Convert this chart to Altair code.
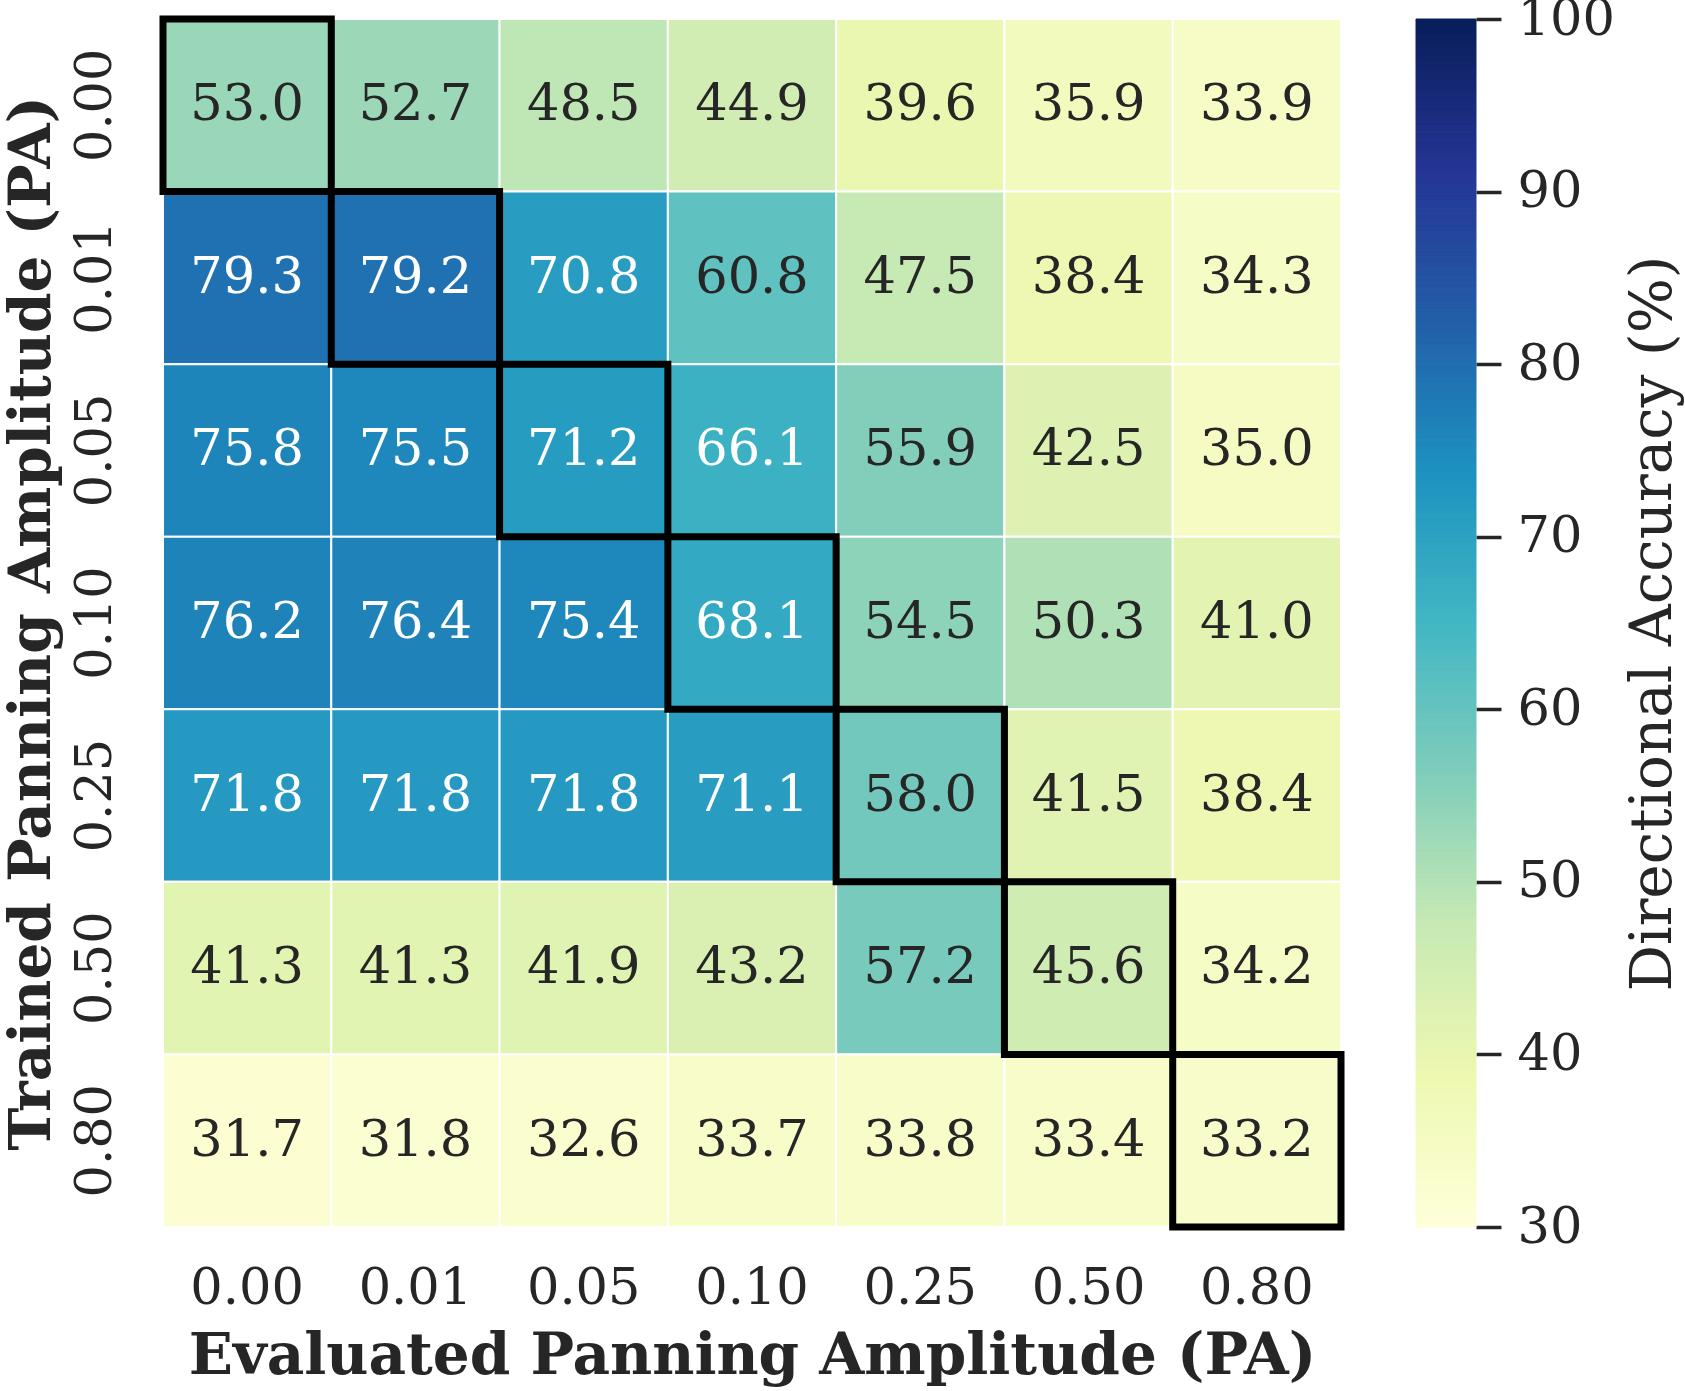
import altair as alt
import pandas as pd
import numpy as np

amplitudes = ["0.00", "0.01", "0.05", "0.10", "0.25", "0.50", "0.80"]
# rows: trained amplitude, columns: evaluated amplitude
row_000 = [53.0, 52.7, 48.5, 44.9, 39.6, 35.9, 33.9]
row_001 = [79.3, 79.2, 70.8, 60.8, 47.5, 38.4, 34.3]
row_005 = [75.8, 75.5, 71.2, 66.1, 55.9, 42.5, 35.0]
row_010 = [76.2, 76.4, 75.4, 68.1, 54.5, 50.3, 41.0]
row_025 = [71.8, 71.8, 71.8, 71.1, 58.0, 41.5, 38.4]
row_050 = [41.3, 41.3, 41.9, 43.2, 57.2, 45.6, 34.2]
row_080 = [31.7, 31.8, 32.6, 33.7, 33.8, 33.4, 33.2]
rows = [row_000, row_001, row_005, row_010, row_025, row_050, row_080]

colorbar_ticks = [30, 40, 50, 60, 70, 80, 90, 100]
vmin, vmax = 30, 100
# YlGnBu colour stops (ColorBrewer 9-class)
ylgnbu = ["#ffffd9", "#edf8b1", "#c7e9b4", "#7fcdbb", "#41b6c4",
          "#1d91c0", "#225ea8", "#253494", "#081d58"]
stop_domain = [vmin + (vmax - vmin) * i / (len(ylgnbu) - 1) for i in range(len(ylgnbu))]

records = []
for tr, vals in zip(amplitudes, rows):
    for ev, v in zip(amplitudes, vals):
        records.append({"train": tr, "eval": ev, "acc": v})
df = pd.DataFrame(records)

FONT = "DejaVu Serif"
TXT = "#262626"
W, H = 1178, 1208

color_scale = alt.Scale(domain=stop_domain, range=ylgnbu, interpolate="rgb", clamp=True)

base = alt.Chart(df).encode(
    x=alt.X("eval:O", sort=amplitudes,
            axis=alt.Axis(title="Evaluated Panning Amplitude (PA)", labelAngle=0,
                          ticks=False, domain=False, labelPadding=36,
                          titlePadding=14, titleFontWeight="bold", titleFontSize=58)),
    y=alt.Y("train:O", sort=amplitudes,
            axis=alt.Axis(title="Trained Panning Amplitude (PA)", labelAngle=270,
                          ticks=False, domain=False, labelPadding=42,
                          titlePadding=8, titleFontWeight="bold", titleFontSize=58)),
)

heat = base.mark_rect(stroke="white", strokeWidth=2).encode(
    color=alt.Color("acc:Q", scale=color_scale, legend=None)
)
text = base.mark_text(font=FONT, fontSize=51).encode(
    text=alt.Text("acc:Q", format=".1f"),
    color=alt.condition("datum.acc > 63", alt.value("white"), alt.value(TXT)),
)
box = base.transform_filter("datum.eval == datum.train").mark_rect(
    filled=False, stroke="black", strokeWidth=7
)

heatmap = alt.layer(heat, text, box).properties(width=W, height=H)

ramp = pd.DataFrame({"v": np.arange(vmin, vmax, 0.25)})
colorbar = alt.Chart(ramp).transform_calculate(v2="datum.v + 0.25").mark_rect(strokeWidth=1).encode(
    y=alt.Y("v:Q", scale=alt.Scale(domain=[vmin, vmax], nice=False, zero=False),
            axis=alt.Axis(orient="right", values=colorbar_ticks, tickSize=25, tickWidth=3.5,
                          tickColor=TXT, domain=False, grid=False, labelPadding=16,
                          title="Directional Accuracy (%)", titleAngle=270,
                          titleBaseline="top",
                          titleFontWeight="normal", titleFontSize=58, titlePadding=10)),
    y2="v2:Q",
    color=alt.Color("v:Q", scale=color_scale, legend=None),
    stroke=alt.Stroke("v:Q", scale=color_scale, legend=None),
).properties(width=60, height=H)

chart = alt.hconcat(heatmap, colorbar, spacing=75, bounds="flush").properties(
    autosize=alt.AutoSizeParams(type="none"),
    padding={"left": 163, "top": 19, "right": 1522, "bottom": 1372},
).configure_view(stroke=None).configure_axis(
    labelFont=FONT, titleFont=FONT, labelColor=TXT, titleColor=TXT, labelFontSize=51,
)

chart.save("out.html", embed_options={"renderer": "svg", "actions": False})
